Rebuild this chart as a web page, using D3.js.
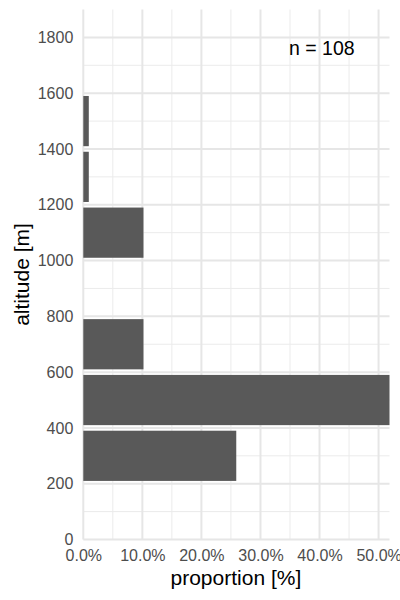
<!DOCTYPE html>
<html><head><meta charset="utf-8">
<script src="https://cdn.jsdelivr.net/npm/d3@7"></script>
<style>body{margin:0;background:#fff}svg{display:block}text{font-family:"Liberation Sans",Arial,sans-serif}</style>
</head><body>
<script>
const binStarts = [200, 400, 600, 800, 1000, 1200, 1400];
const binWidth = 200;
const proportions = [25.9, 51.85, 10.19, 0, 10.19, 0.93, 0.93];
const xTicks = [0, 10, 20, 30, 40, 50];
const yTicks = [0, 200, 400, 600, 800, 1000, 1200, 1400, 1600, 1800];
const nLabel = "n = 108";

(function () {
const W = 400, H = 600;
const mL = 83.3, mR = 389.5, mT = 9.5, mB = 539.5;
const svg = d3.select("body").append("svg").attr("width", W).attr("height", H);

const x = d3.scaleLinear().domain([0, 51.85]).range([mL, mR]);
const y = d3.scaleLinear().domain([0, 1900]).range([mB, mT]);

const g = svg.append("g");
const xMinor = d3.range(5, 55, 10);
const yMinor = d3.range(100, 1900, 200);
g.selectAll(".vminor").data(xMinor).join("line")
  .attr("x1", d => x(d)).attr("x2", d => x(d)).attr("y1", mT).attr("y2", mB)
  .attr("stroke", "#ebebeb").attr("stroke-width", 1);
g.selectAll(".hminor").data(yMinor).join("line")
  .attr("y1", d => y(d)).attr("y2", d => y(d)).attr("x1", mL).attr("x2", mR)
  .attr("stroke", "#ebebeb").attr("stroke-width", 1);
g.selectAll(".vmajor").data(xTicks).join("line")
  .attr("x1", d => x(d)).attr("x2", d => x(d)).attr("y1", mT).attr("y2", mB)
  .attr("stroke", "#e6e6e6").attr("stroke-width", 2);
g.selectAll(".hmajor").data(yTicks).join("line")
  .attr("y1", d => y(d)).attr("y2", d => y(d)).attr("x1", mL).attr("x2", mR)
  .attr("stroke", "#e6e6e6").attr("stroke-width", 2);

const pad = binWidth * 0.05;
g.selectAll(".bar").data(binStarts.map((b, i) => ({b, p: proportions[i]})).filter(d => d.p > 0))
  .join("rect")
  .attr("x", x(0))
  .attr("width", d => x(d.p) - x(0))
  .attr("y", d => y(d.b + binWidth - pad))
  .attr("height", d => y(d.b + pad) - y(d.b + binWidth - pad))
  .attr("fill", "#595959");

const xAxis = svg.append("g").attr("transform", `translate(0,${mB})`)
  .call(d3.axisBottom(x).tickValues(xTicks).tickFormat(d => d.toFixed(1) + "%").tickSize(0).tickPadding(10));
const yAxis = svg.append("g").attr("transform", `translate(${mL},0)`)
  .call(d3.axisLeft(y).tickValues(yTicks).tickFormat(d3.format("d")).tickSize(0).tickPadding(10));
[xAxis, yAxis].forEach(a => {
  a.select(".domain").remove();
  a.selectAll("text").attr("fill", "#4d4d4d").style("font-size", "16px")
    .style("font-family", "'Liberation Sans', Arial, sans-serif");
});

svg.append("text").attr("x", (mL + mR) / 2 - 0.5).attr("y", 585)
  .attr("text-anchor", "middle").style("font-size", "21px").attr("fill", "#000")
  .text("proportion [%]");
svg.append("text").attr("transform", `translate(29,${(mT + mB) / 2}) rotate(-90)`)
  .attr("text-anchor", "middle").style("font-size", "21px").attr("fill", "#000")
  .text("altitude [m]");
svg.append("text").attr("x", 289).attr("y", 55)
  .style("font-size", "19.5px").attr("fill", "#000").text(nLabel);
})();
</script>
</body></html>
